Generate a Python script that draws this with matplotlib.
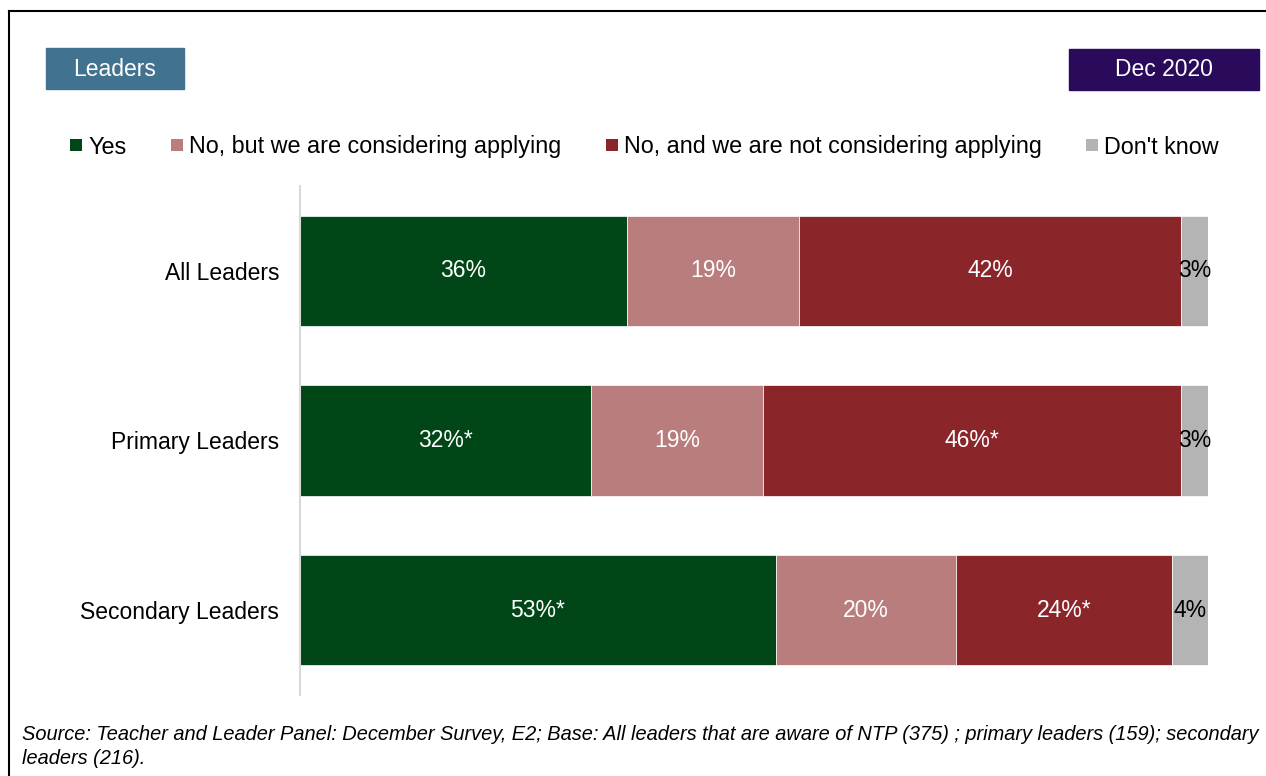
import matplotlib
matplotlib.use("Agg")
import matplotlib.pyplot as plt
from matplotlib.patches import Rectangle
from matplotlib.lines import Line2D
import numpy as np

plt.rcParams['font.family'] = ['Liberation Sans', 'DejaVu Sans']

categories = ["All Leaders", "Primary Leaders", "Secondary Leaders"]
series_names = ["Yes", "No, but we are considering applying",
                "No, and we are not considering applying", "Don't know"]
yes = [36.0, 32.0, 52.4]
no_considering = [19.0, 19.0, 19.9]
no_not_considering = [42.0, 46.0, 23.7]
dont_know = [3.0, 3.0, 4.0]
yes_labels = ["36%", "32%*", "53%*"]
no_considering_labels = ["19%", "19%", "20%"]
no_not_considering_labels = ["42%", "46%*", "24%*"]
dont_know_labels = ["3%", "3%", "4%"]

colors = ["#004616", "#B97D7D", "#8A252A", "#B4B4B4"]
label_colors = ["white", "white", "white", "black"]

FS = 16.5
LFS = 16.8

W, H = 1266, 776
fig = plt.figure(figsize=(W / 100, H / 100), dpi=100)

def fx(px):
    return px / W

def fy(py):
    return 1 - py / H

ax = fig.add_axes([fx(300), fy(695), fx(1208) - fx(300), fy(186) - fy(695)])

series = [yes, no_considering, no_not_considering, dont_know]
labels = [yes_labels, no_considering_labels, no_not_considering_labels, dont_know_labels]
ypos = np.arange(len(categories))
left = np.zeros(len(categories))
for vals, lab, c, lc in zip(series, labels, colors, label_colors):
    vals = np.array(vals)
    bars = ax.barh(ypos, vals, left=left, height=0.65, color=c,
                   edgecolor="white", linewidth=0.5)
    for i, b in enumerate(bars):
        ax.text(left[i] + vals[i] / 2, ypos[i], lab[i], ha="center", va="center",
                color=lc, fontsize=FS, clip_on=False)
    left = left + vals

ax.set_xlim(0, 100)
ax.set_ylim(2.5, -0.5)
ax.set_yticks(ypos)
ax.set_yticklabels(categories, fontsize=FS)
ax.tick_params(axis="y", length=0, pad=15)
ax.set_xticks([])
for s in ["top", "right", "bottom"]:
    ax.spines[s].set_visible(False)
ax.spines["left"].set_color("#D9D9D9")
ax.spines["left"].set_linewidth(1.5)

# Legend
handles = [Line2D([], [], marker="s", linestyle="none", markersize=8,
                  color=c, markeredgewidth=0) for c in colors]
fig.legend(handles, series_names, loc="center left",
           bbox_to_anchor=(fx(71), fy(147)), ncol=4, frameon=False,
           fontsize=LFS, handlelength=0.47, handletextpad=0.26,
           columnspacing=1.95, borderpad=0, borderaxespad=0)

# Header boxes
fig.patches.append(Rectangle((fx(46), fy(89)), fx(184) - fx(46), fy(48) - fy(89),
                             transform=fig.transFigure, color="#41728F", zorder=1))
fig.text(fx(115), fy(69), "Leaders", color="white", fontsize=FS,
         ha="center", va="center")
fig.patches.append(Rectangle((fx(1069), fy(90)), fx(1259) - fx(1069), fy(49) - fy(90),
                             transform=fig.transFigure, color="#2A0A5A", zorder=1))
fig.text(fx(1164), fy(70), "Dec 2020", color="white", fontsize=FS,
         ha="center", va="center")

# Border
fig.add_artist(Line2D([fx(9), 1], [fy(11), fy(11)], transform=fig.transFigure,
                      color="black", linewidth=1.5))
fig.add_artist(Line2D([fx(9), fx(9)], [fy(11), 0], transform=fig.transFigure,
                      color="black", linewidth=1.5))

# Source
fig.text(fx(22), fy(735), "Source: Teacher and Leader Panel: December Survey, E2; Base: All leaders that are aware of NTP (375) ; primary leaders (159); secondary",
         fontsize=14.4, style="italic", ha="left", va="center")
fig.text(fx(22), fy(759), "leaders (216).",
         fontsize=14.4, style="italic", ha="left", va="center")

fig.savefig("out.png", dpi=100)
